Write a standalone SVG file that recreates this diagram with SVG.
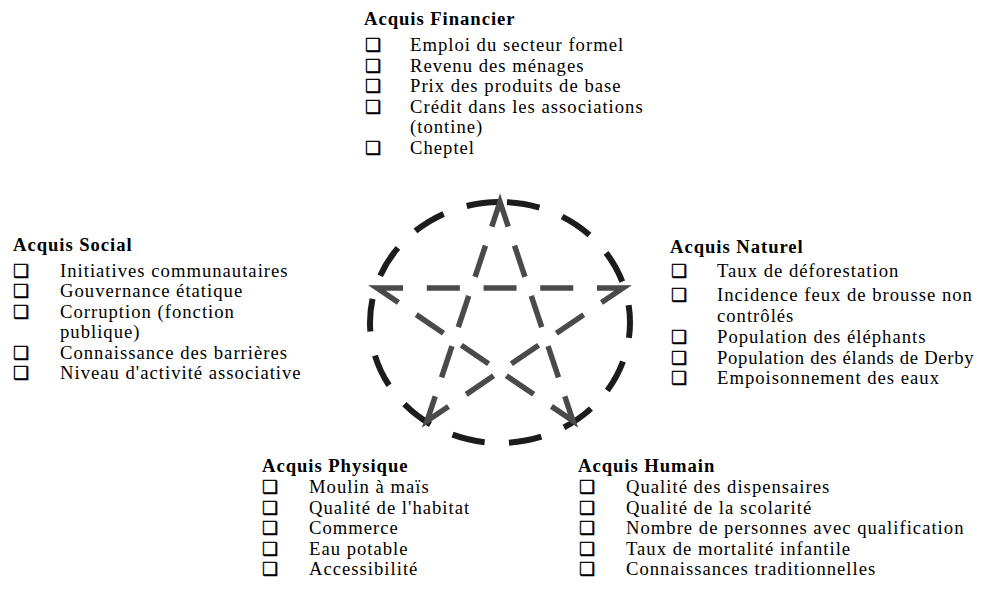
<svg xmlns="http://www.w3.org/2000/svg" width="987" height="597" viewBox="0 0 987 597">
<style>
.t { font-family: "Liberation Serif", "Times New Roman", serif; font-size: 18.67px; fill: #000; letter-spacing: 1px; }
.h { font-weight: bold; letter-spacing: 0.95px; }
.b { font-family: "DejaVu Sans", sans-serif; font-size: 18px; fill: #000; stroke: #000; stroke-width: 0.4; }
.ring { fill: none; stroke: #1c1c1c; stroke-width: 6; }
.star { fill: none; stroke: #4a4a4a; stroke-width: 5.5; stroke-linejoin: miter; stroke-miterlimit: 10; }
</style>
<rect width="987" height="597" fill="#fff"/>

<g id="connectors">
  <path class="ring" d="M500,202 A130,120.5 0 0 1 500,443 A130,120.5 0 0 1 500,202" stroke-dasharray="33 24.41" stroke-dashoffset="50.41"/>
  <path class="star" d="M500,288 L623,288 L427,421 L500,202 L573,421 L377,288 Z" stroke-dasharray="16.5 23.75 33 23.75 52 21.475 33 21.475 33 21.475 33 21.475 52 19.96 33 19.96 33 19.96 33 19.96 52 19.96 33 19.96 33 19.96 33 19.96 52 21.475 33 21.475 33 21.475 33 21.475 52 23.75 33 23.75 16.5 10"/>
</g>

<g id="financier">
  <text class="t h" x="364" y="25">Acquis Financier</text>
  <text class="b" x="365" y="51">❑</text><text class="t" x="410" y="51">Emploi du secteur formel</text>
  <text class="b" x="365" y="71.5">❑</text><text class="t" x="410" y="71.5">Revenu des ménages</text>
  <text class="b" x="365" y="92">❑</text><text class="t" x="410" y="92">Prix des produits de base</text>
  <text class="b" x="365" y="112.5">❑</text><text class="t" x="410" y="112.5">Crédit dans les associations</text>
  <text class="t" x="410" y="133">(tontine)</text>
  <text class="b" x="365" y="154">❑</text><text class="t" x="410" y="154">Cheptel</text>
</g>

<g id="social">
  <text class="t h" x="13" y="250.5">Acquis Social</text>
  <text class="b" x="13" y="276.5">❑</text><text class="t" x="60" y="276.5">Initiatives communautaires</text>
  <text class="b" x="13" y="297">❑</text><text class="t" x="60" y="297">Gouvernance étatique</text>
  <text class="b" x="13" y="317.5">❑</text><text class="t" x="60" y="317.5">Corruption (fonction</text>
  <text class="t" x="60" y="338">publique)</text>
  <text class="b" x="13" y="358.5">❑</text><text class="t" x="60" y="358.5">Connaissance des barrières</text>
  <text class="b" x="13" y="379">❑</text><text class="t" x="60" y="379">Niveau d'activité associative</text>
</g>

<g id="naturel">
  <text class="t h" x="670" y="252.5">Acquis Naturel</text>
  <text class="b" x="671" y="276.5">❑</text><text class="t" x="717" y="276.5">Taux de déforestation</text>
  <text class="b" x="671" y="300.5">❑</text><text class="t" x="717" y="300.5">Incidence feux de brousse non</text>
  <text class="t" x="717" y="321.5">contrôlés</text>
  <text class="b" x="671" y="342.5">❑</text><text class="t" x="717" y="342.5">Population des éléphants</text>
  <text class="b" x="671" y="363.5">❑</text><text class="t" x="717" y="363.5" style="letter-spacing:0.7px">Population des élands de Derby</text>
  <text class="b" x="671" y="384">❑</text><text class="t" x="717" y="384">Empoisonnement des eaux</text>
</g>

<g id="physique">
  <text class="t h" x="262" y="472">Acquis Physique</text>
  <text class="b" x="262" y="493">❑</text><text class="t" x="309" y="493">Moulin à maïs</text>
  <text class="b" x="262" y="513.5">❑</text><text class="t" x="309" y="513.5">Qualité de l'habitat</text>
  <text class="b" x="262" y="534">❑</text><text class="t" x="309" y="534">Commerce</text>
  <text class="b" x="262" y="554.5">❑</text><text class="t" x="309" y="554.5">Eau potable</text>
  <text class="b" x="262" y="575">❑</text><text class="t" x="309" y="575">Accessibilité</text>
</g>

<g id="humain">
  <text class="t h" x="578" y="472">Acquis Humain</text>
  <text class="b" x="579" y="493">❑</text><text class="t" x="626" y="493">Qualité des dispensaires</text>
  <text class="b" x="579" y="513.5">❑</text><text class="t" x="626" y="513.5">Qualité de la scolarité</text>
  <text class="b" x="579" y="534">❑</text><text class="t" x="626" y="534">Nombre de personnes avec qualification</text>
  <text class="b" x="579" y="554.5">❑</text><text class="t" x="626" y="554.5">Taux de mortalité infantile</text>
  <text class="b" x="579" y="575">❑</text><text class="t" x="626" y="575">Connaissances traditionnelles</text>
</g>
</svg>
